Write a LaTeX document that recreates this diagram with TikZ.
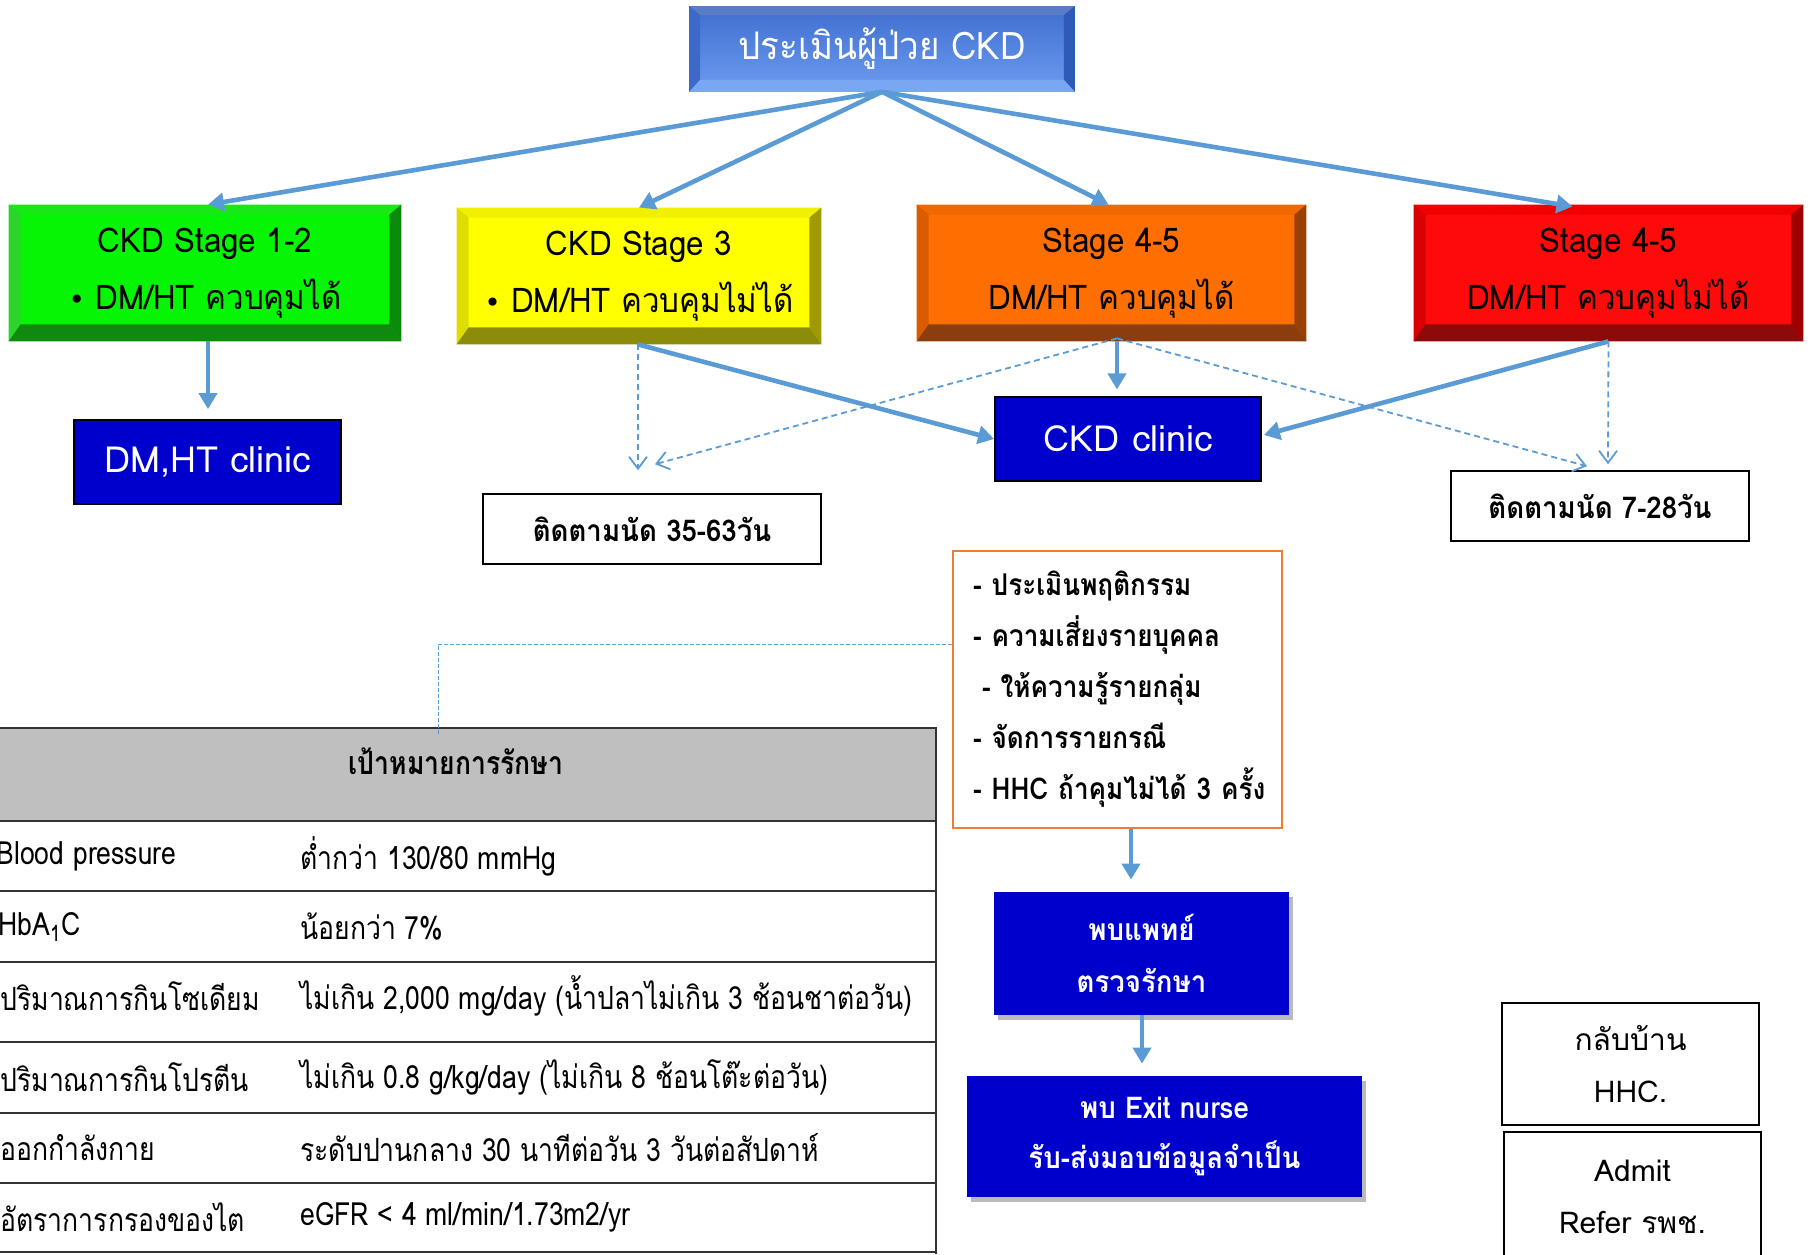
\documentclass[tikz,border=0pt]{standalone}
\usepackage{fontspec}
\setmainfont[Script=Thai]{Loma}
\newfontfamily\tfont[Script=Thai,FakeStretch=0.83]{Loma}
\newfontfamily\cfont[Script=Thai,FakeStretch=0.92]{Loma}
\newfontfamily\lfont[Script=Thai,FakeStretch=0.87]{Loma}
\newfontfamily\dvs{DejaVu Sans}
\usetikzlibrary{arrows.meta,calc,shadows}
\definecolor{arrowblue}{HTML}{5B9BD5}
\definecolor{navy}{HTML}{0000CC}
\definecolor{lorange}{HTML}{ED7D31}
\definecolor{headgray}{HTML}{BFBFBF}
\definecolor{gface}{RGB}{5,245,5}
\definecolor{gtop}{RGB}{24,232,24}
\definecolor{gleft}{RGB}{43,213,43}
\definecolor{gright}{RGB}{11,139,11}
\definecolor{gbot}{RGB}{15,138,15}
\definecolor{yface}{RGB}{255,255,0}
\definecolor{ytop}{RGB}{240,240,0}
\definecolor{yleft}{RGB}{221,221,0}
\definecolor{yright}{RGB}{158,154,0}
\definecolor{ybot}{RGB}{140,140,10}
\definecolor{oface}{RGB}{255,110,0}
\definecolor{otop}{RGB}{240,104,0}
\definecolor{oleft}{RGB}{218,92,0}
\definecolor{oright}{RGB}{154,64,0}
\definecolor{obot}{RGB}{139,61,13}
\definecolor{rface}{RGB}{255,10,10}
\definecolor{rtop}{RGB}{240,0,0}
\definecolor{rleft}{RGB}{216,0,0}
\definecolor{rright}{RGB}{160,0,0}
\definecolor{rbot}{RGB}{140,10,10}
\definecolor{bfacetop}{RGB}{63,111,208}
\definecolor{bfacebot}{RGB}{108,155,239}
\definecolor{btop}{RGB}{90,124,196}
\definecolor{bleft}{RGB}{61,106,200}
\definecolor{bright}{RGB}{47,91,184}
\definecolor{bbot}{RGB}{122,167,242}
\definecolor{bborder}{RGB}{47,82,143}
\def\bvs{12}\def\bvt{10}\def\bvb{17}
\newcommand\bevel[5]{%
  \fill[#2] (#1.north west) -- (#1.north east) -- ($(#1.north east)+(-\bvs,\bvt)$) -- ($(#1.north west)+(\bvs,\bvt)$) -- cycle;
  \fill[#3] (#1.north west) -- ($(#1.north west)+(\bvs,\bvt)$) -- ($(#1.south west)+(\bvs,-\bvb)$) -- (#1.south west) -- cycle;
  \fill[#4] (#1.north east) -- ($(#1.north east)+(-\bvs,\bvt)$) -- ($(#1.south east)+(-\bvs,-\bvb)$) -- (#1.south east) -- cycle;
  \fill[#5] (#1.south west) -- ($(#1.south west)+(\bvs,-\bvb)$) -- ($(#1.south east)+(-\bvs,-\bvb)$) -- (#1.south east) -- cycle;
}
\begin{document}
\begin{tikzpicture}[x=0.5pt,y=-0.5pt,
  stagebox/.style={minimum width=195pt,minimum height=68pt,inner sep=0pt,align=center,
     font=\cfont\fontsize{17pt}{28.5pt}\selectfont,text=black},
  navybox/.style={fill=navy,text=white,inner sep=0pt,align=center},
  plainbox/.style={draw=black,line width=0.8pt,fill=white,inner sep=0pt,align=center},
  thickarrow/.style={draw=arrowblue,line width=2.3pt,-{Triangle[length=8pt,width=9pt]}},
  dasharrow/.style={draw=arrowblue,line width=0.9pt,dash pattern=on 3pt off 2pt,-{Straight Barb[length=6pt,width=9pt]}},
  thindash/.style={draw=arrowblue,line width=0.45pt,dash pattern=on 2pt off 1pt},
  tabline/.style={draw=black!80,line width=0.8pt},
  tabtext/.style={inner sep=0pt,anchor=west,font=\tfont\fontsize{16pt}{18pt}\selectfont},
  shadowbox/.style={drop shadow={shadow xshift=2pt,shadow yshift=-2.5pt,fill=black!45,opacity=0.6}}
]
\useasboundingbox (0,0) rectangle (1810,1254);

% top box
\node[minimum width=192pt,minimum height=42pt,inner sep=0pt,top color=bfacetop,bottom color=bfacebot,draw=bborder,line width=0.8pt] (top) at (882,49) {};
\def\bvs{11}\def\bvt{9}\def\bvb{12}
\bevel{top}{btop}{bleft}{bright}{bbot}
\node[text=white,font=\cfont\fontsize{19pt}{24pt}\selectfont,inner sep=0pt] (toptext) at (top) {ประเมินผู้ป่วย CKD};
\def\bvs{12}\def\bvt{10}\def\bvb{17}

% stage boxes
\node[stagebox,fill=gface,minimum width=196pt] (s1) at (205,273) {};
\bevel{s1}{gtop}{gleft}{gright}{gbot}
\node[stagebox] (t1) at (s1) {CKD Stage 1-2\\{\dvs\fontsize{14pt}{14pt}\selectfont •} DM/HT ควบคุมได้};

\node[stagebox,fill=yface,minimum width=182pt] (s2) at (639,276) {};
\bevel{s2}{ytop}{yleft}{yright}{ybot}
\node[stagebox] (t2) at (s2) {CKD Stage 3\\{\dvs\fontsize{14pt}{14pt}\selectfont •} DM/HT ควบคุมไม่ได้};

\node[stagebox,fill=oface,minimum width=194.5pt] (s3) at (1111.5,273) {};
\bevel{s3}{otop}{oleft}{oright}{obot}
\node[stagebox] (t3) at (s3) {Stage 4-5\\DM/HT ควบคุมได้};

\node[stagebox,fill=rface,minimum width=194.5pt] (s4) at (1608.5,273) {};
\bevel{s4}{rtop}{rleft}{rright}{rbot}
\node[stagebox] (t4) at (s4) {Stage 4-5\\DM/HT ควบคุมไม่ได้};

% clinics
\node[navybox,draw=black,line width=0.9pt,minimum width=133.5pt,minimum height=42pt,font=\fontsize{18pt}{22pt}\selectfont] (c1) at (207.5,462) {DM,HT clinic};
\node[navybox,draw=black,line width=0.9pt,minimum width=133pt,minimum height=42pt,font=\fontsize{18pt}{22pt}\selectfont] (c2) at (1128,439) {CKD clinic};

% follow-ups
\node[plainbox,minimum width=169pt,minimum height=35pt,font=\cfont\bfseries\fontsize{15pt}{18pt}\selectfont] (f1) at (652,529) {ติดตามนัด 35-63วัน};
\node[plainbox,minimum width=149pt,minimum height=35pt,font=\cfont\bfseries\fontsize{15pt}{18pt}\selectfont] (f2) at (1600,506) {ติดตามนัด 7-28วัน};

% list box
\node[draw=lorange,line width=1pt,fill=white,minimum width=164.5pt,minimum height=138.5pt,inner xsep=8pt,inner ysep=0pt,text width=148.5pt,align=left,font=\lfont\bfseries\fontsize{15pt}{25.5pt}\selectfont] (list) at (1117.5,689.5)
 {\hspace*{2pt}- ประเมินพฤติกรรม\\\hspace*{2pt}- ความเสี่ยงรายบุคคล\\\hspace*{6.5pt}- ให้ความรู้รายกลุ่ม\\\hspace*{2pt}- จัดการรายกรณี\\\hspace*{2pt}- HHC ถ้าคุมไม่ได้ 3 ครั้ง};

% doctor and exit nurse
\node[navybox,shadowbox,minimum width=147.5pt,minimum height=61.5pt,font=\cfont\bfseries\fontsize{15pt}{26pt}\selectfont] (doc) at (1141.5,953.5) {พบแพทย์\\ตรวจรักษา};
\node[navybox,shadowbox,minimum width=197.5pt,minimum height=60.5pt,font=\cfont\bfseries\fontsize{15pt}{25pt}\selectfont] (exit) at (1164.5,1136.5) {พบ Exit nurse\\รับ-ส่งมอบข้อมูลจำเป็น};

% home / admit
\node[plainbox,minimum width=128.5pt,minimum height=61pt,font=\fontsize{15pt}{26pt}\selectfont] (home) at (1630.5,1064) {กลับบ้าน\\HHC.};
\node[plainbox,minimum width=128.5pt,minimum height=65pt,font=\fontsize{15pt}{26pt}\selectfont] (admit) at (1632.5,1197) {Admit\\Refer รพช.};

% table
\node[fill=headgray,draw=black!80,line width=0.8pt,minimum width=473pt,minimum height=46.5pt,inner sep=0pt] (tabhead) at (463,774.5) {};
\node[inner sep=0pt,font=\tfont\bfseries\fontsize{16pt}{18pt}\selectfont] (tabtitle) at (456,761) {เป้าหมายการรักษา};
\foreach \yy in {891,962,1042,1113,1183,1252} {\draw[tabline] (-10,\yy) -- (936,\yy);}
\draw[tabline] (936,821) -- (936,1254);
\node[tabtext] (a1) at (-4,856) {Blood pressure};
\node[tabtext] (a2) at (-2,927) {HbA\textsubscript{1}C};
\node[tabtext] (a3) at (0,996) {ปริมาณการกินโซเดียม};
\node[tabtext] (a4) at (0,1077) {ปริมาณการกินโปรตีน};
\node[tabtext] (a5) at (0,1148) {ออกกำลังกาย};
\node[tabtext] (a6) at (0,1217) {อัตราการกรองของไต};
\node[tabtext] (b1) at (300,856) {ต่ำกว่า 130/80 mmHg};
\node[tabtext] (b2) at (300,927) {น้อยกว่า 7\%};
\node[tabtext] (b3) at (300,996) {ไม่เกิน 2,000 mg/day (น้ำปลาไม่เกิน 3 ช้อนชาต่อวัน)};
\node[tabtext] (b4) at (300,1077) {ไม่เกิน 0.8 g/kg/day (ไม่เกิน 8 ช้อนโต๊ะต่อวัน)};
\node[tabtext] (b5) at (300,1148) {ระดับปานกลาง 30 นาทีต่อวัน 3 วันต่อสัปดาห์};
\node[tabtext] (b6) at (300,1217) {eGFR < 4 ml/min/1.73m2/yr};

% connectors
\draw[thickarrow] (top.south) -- ($(s1.north)+(3,0)$);
\draw[thickarrow] (top.south) -- (s2.north);
\draw[thickarrow] (top.south) -- ($(s3.north)+(-3,0)$);
\draw[thickarrow] (top.south) -- ($(s4.north)+(-36,2)$);
\draw[thickarrow,shorten >=5pt] ($(s1.south)+(3,0)$) -- ($(c1.north)+(0.5,0)$);
\draw[thickarrow] ($(s2.south)+(-1,0)$) -- (c2.west);
\draw[thickarrow,shorten >=4pt] ($(s3.south)+(5.5,0)$) -- ($(s3.south)+(5.5,56)$);
\draw[thickarrow] (s4.south) -- ($(c2.east)+(2,-4)$);
\draw[dasharrow] ($(s2.south)+(-1,0)$) -- ($(f1.north)+(-14,-23)$);
\draw[dasharrow] ($(s3.south)+(5.5,-3)$) -- ($(f1.north)+(3,-29)$);
\draw[dasharrow] ($(s3.south)+(5.5,-3)$) -- ($(f2.north)+(-13,-4)$);
\draw[dasharrow] (s4.south) -- ($(f2.north)+(8,-6)$);
\draw[thickarrow,shorten >=6pt] ($(list.south)+(13.5,0)$) -- ($(doc.north)+(-10.5,0)$);
\draw[thickarrow,shorten >=6pt] ($(doc.south)+(0.5,0)$) -- ($(exit.north)+(-22.5,0)$);
\draw[thindash] ($(list.west)+(0,-45.5)$) -| ($(tabhead.north west)+(449,7)$);
\end{tikzpicture}
\end{document}
